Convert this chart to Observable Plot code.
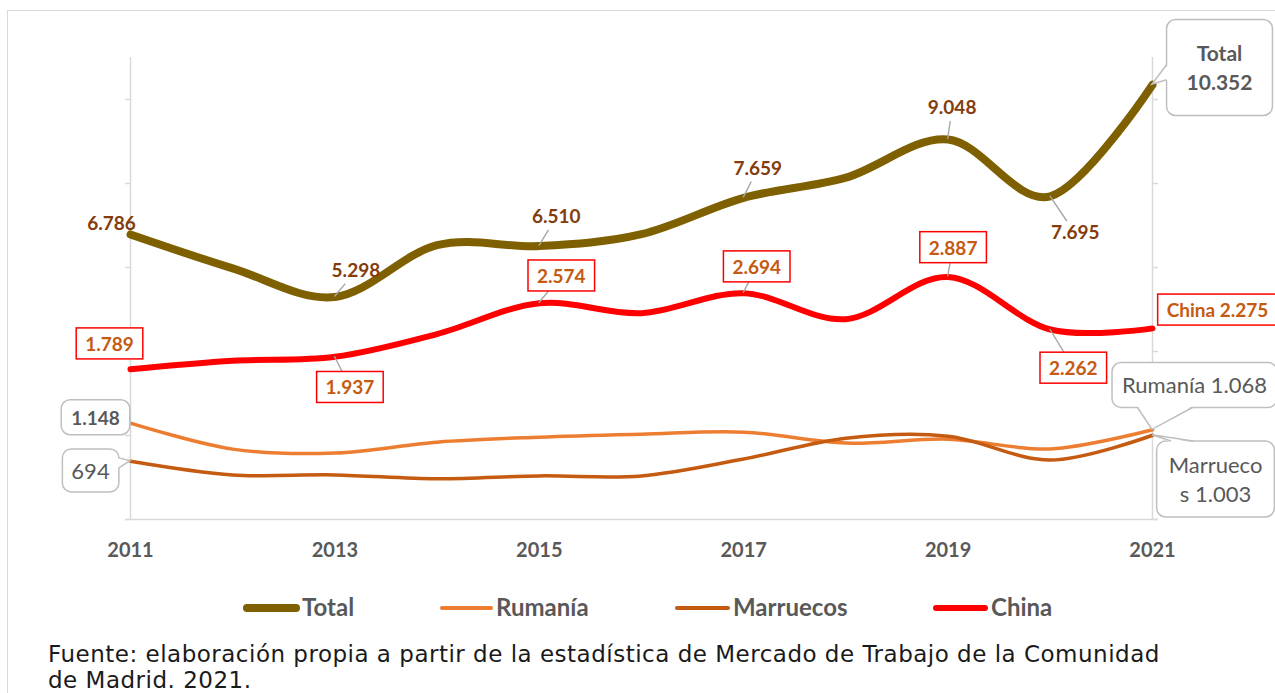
<!DOCTYPE html>
<html>
<head>
<meta charset="utf-8">
<script src="https://cdn.jsdelivr.net/npm/d3@7"></script>
<script src="https://cdn.jsdelivr.net/npm/@observablehq/plot@0.6"></script>
<style>
html, body { margin: 0; padding: 0; background: #fff; }
#wrap { position: relative; width: 1275px; height: 693px; overflow: hidden; background: #fff; }
#frame { position: absolute; left: 7px; top: 10px; width: 1320px; height: 720px; border: 1.5px solid #d9d9d9; box-sizing: border-box; }
#chart { position: absolute; left: 0; top: 0; }
#legend { position: absolute; left: 0; top: 593px; width: 1275px; height: 28px; font-family: Lato, "Open Sans", sans-serif; font-weight: bold; font-size: 24px; color: #595959; }
.sw { position: absolute; top: 50%; border-radius: 6px; }
.lt { position: absolute; top: 0; line-height: 28px; white-space: nowrap; }
#caption { position: absolute; left: 48px; top: 641px; font-family: "DejaVu Sans", Lato, sans-serif; font-size: 23px; letter-spacing: 0.5px; line-height: 26px; color: #1a1a1a; white-space: nowrap; }
</style>
</head>
<body>
<div id="wrap">
  <div id="frame"></div>
  <div id="chart"></div>
  <div id="legend"></div>
  <div id="caption"></div>
</div>
<script>
// ---------------- DATA ----------------
const years = [2011, 2012, 2013, 2014, 2015, 2016, 2017, 2018, 2019, 2020, 2021];
const total     = [6786, 5980, 5298, 6530, 6510, 6794, 7659, 8140, 9048, 7695, 10352];
const rumania   = [1148, 838, 791, 921, 980, 1015, 1040, 910, 956, 840, 1068];
const marruecos = [694, 531, 531, 484, 519, 519, 720, 968, 992, 708, 1003];
const china     = [1789, 1889, 1937, 2208, 2574, 2456, 2694, 2385, 2887, 2262, 2275];
const seriesNames = ["Total", "Rumanía", "Marruecos", "China"];
const xTickYears = [2011, 2013, 2015, 2017, 2019, 2021];
const primaryTicks = [0, 2000, 4000, 6000, 8000, 10000];
const primaryMax = 11000;     // left axis (Total)
const secondaryMax = 5500;    // right axis (Rumanía, Marruecos, China)
const captionLines = [
  "Fuente: elaboración propia a partir de la estadística de Mercado de Trabajo de la Comunidad",
  "de Madrid. 2021."
];

// ---------------- STYLE ----------------
const seriesStyle = {
  "Total":     { color: "#7F6000", width: 8,   axis: "primary" },
  "Rumanía":   { color: "#ED7D31", width: 3.5, axis: "secondary" },
  "Marruecos": { color: "#C55A11", width: 3.5, axis: "secondary" },
  "China":     { color: "#FF0000", width: 6,   axis: "secondary" }
};
const seriesValues = { "Total": total, "Rumanía": rumania, "Marruecos": marruecos, "China": china };
const ratio = primaryMax / secondaryMax;

const rows = seriesNames.flatMap(name => years.map((yr, i) => {
  const v = seriesValues[name][i];
  return { series: name, year: yr, value: v, yv: seriesStyle[name].axis === "primary" ? v : v * ratio };
}));

const fmt = d3.formatLocale({ decimal: ",", thousands: ".", grouping: [3], currency: ["", "€"] }).format(",d");

// label layout (offsets from the data point, in px) and look
const labelLayout = [
  { series: "Total", year: 2011, dx: -19, dy: -12, kind: "plain" },
  { series: "Total", year: 2013, dx: 21, dy: -28, kind: "plain", leader: true },
  { series: "Total", year: 2015, dx: 17, dy: -31, kind: "plain", leader: true },
  { series: "Total", year: 2017, dx: 14, dy: -31, kind: "plain", leader: true },
  { series: "Total", year: 2019, dx: 4, dy: -33, kind: "plain", leader: true },
  { series: "Total", year: 2020, dx: 25, dy: 35, kind: "plain", leader: true },
  { series: "Total", year: 2021, dx: 67, dy: -18, kind: "callout", prefix: "Total\n", size: 21, lh: 29, padX: 20, padY: 22, wedgeW: 15, wedgeShift: -12 },
  { series: "China", year: 2011, dx: -21, dy: -26, kind: "box" },
  { series: "China", year: 2013, dx: 15, dy: 30, kind: "box", leader: true },
  { series: "China", year: 2015, dx: 22, dy: -28, kind: "box", leader: true },
  { series: "China", year: 2017, dx: 13, dy: -27, kind: "box", leader: true },
  { series: "China", year: 2019, dx: 5, dy: -30, kind: "box", leader: true },
  { series: "China", year: 2020, dx: 23, dy: 38, kind: "box", leader: true },
  { series: "China", year: 2021, dx: 65, dy: -19, kind: "box", prefix: "China " },
  { series: "Rumanía", year: 2011, dx: -35, dy: -6, kind: "callout", padX: 10, padY: 7, wedgeW: 10, wedgeShift: 0 },
  { series: "Rumanía", year: 2021, dx: 42, dy: -44, kind: "callout", prefix: "Rumanía ", normal: true, size: 22, padX: 10, padY: 10, wedgeW: 55, wedgeShift: 13 },
  { series: "Marruecos", year: 2011, dx: -40, dy: 10, kind: "callout", normal: true, size: 22, padX: 9, padY: 9, wedgeW: 10, wedgeShift: 0 },
  { series: "Marruecos", year: 2021, dx: 63, dy: 43, kind: "callout", prefix: "Marrueco\ns ", normal: true, size: 22, lh: 29, padX: 12, padY: 11, wedgeW: 22, wedgeShift: 30 }
];

const W = 1275, H = 580;
const mL = 130, mR = 123, mT = 57, mB = 61;
const labelFont = "Lato, 'Open Sans', sans-serif";

function rowOf(L) { return rows.find(r => r.series === L.series && r.year === L.year); }
function labelText(L) { return (L.prefix || "") + fmt(rowOf(L).value); }

const marks = [
  Plot.ruleX([2011, 2021], { y1: 0, y2: primaryMax, stroke: "#d9d9d9", strokeWidth: 1.5 }),
  Plot.ruleY([0], { stroke: "#d9d9d9", strokeWidth: 1.5, insetLeft: -5, insetRight: -6 }),
  Plot.axisY({ anchor: "left", ticks: primaryTicks, tickSize: 5, tickFormat: () => "", stroke: "#d9d9d9", strokeWidth: 1.5, label: null }),
  Plot.axisY({ anchor: "right", ticks: primaryTicks, tickSize: 5, tickFormat: () => "", stroke: "#d9d9d9", strokeWidth: 1.5, label: null }),
  Plot.text(xTickYears, { x: d => d, y: 0, dy: 31, text: d => String(d), fontWeight: "bold", fontSize: 20, fill: "#595959", fontFamily: labelFont }),
  ...seriesNames.map(name => Plot.line(rows.filter(r => r.series === name), {
    x: "year", y: "yv", stroke: seriesStyle[name].color, strokeWidth: seriesStyle[name].width,
    curve: "cardinal", strokeLinecap: "round", strokeLinejoin: "round"
  })),
  ...labelLayout.map((L) => {
    let fill = "#595959";
    if (L.kind === "plain") fill = "#843C0C";
    if (L.kind === "box") fill = "#C55A11";
    return Plot.text([rowOf(L)], {
      x: "year", y: "yv", dx: L.dx, dy: L.dy,
      text: () => labelText(L),
      fill, fontWeight: L.normal ? "normal" : "bold", fontSize: L.size || 19,
      lineHeight: (L.lh || 24) / (L.size || 19),
      fontFamily: labelFont
    });
  })
];

const chart = Plot.plot({
  width: W, height: H,
  marginLeft: mL, marginRight: mR, marginTop: mT, marginBottom: mB,
  x: { domain: [2011, 2021], axis: null },
  y: { domain: [0, primaryMax], axis: null },
  style: { background: "transparent", overflow: "visible" },
  marks
});
document.getElementById("chart").append(chart);

// scales for decoration placement
const xs = d3.scaleLinear([2011, 2021], [mL, W - mR]);
const ys = d3.scaleLinear([0, primaryMax], [H - mB, mT]);
const NS = "http://www.w3.org/2000/svg";

function el(tag, attrs) {
  const e = document.createElementNS(NS, tag);
  for (const k in attrs) e.setAttribute(k, attrs[k]);
  return e;
}
function clipToBox(px, py, cx, cy, x0, y0, x1, y1) {
  const dx = cx - px, dy = cy - py;
  let tBest = 1;
  const cands = [];
  if (dx !== 0) cands.push((x0 - px) / dx, (x1 - px) / dx);
  if (dy !== 0) cands.push((y0 - py) / dy, (y1 - py) / dy);
  for (const t of cands) {
    if (t < 0 || t > 1) continue;
    const qx = px + t * dx, qy = py + t * dy;
    if (qx >= x0 - 0.01 && qx <= x1 + 0.01 && qy >= y0 - 0.01 && qy <= y1 + 0.01) tBest = Math.min(tBest, t);
  }
  return [px + tBest * dx, py + tBest * dy];
}

function decorate() {
  const svgRect = chart.getBoundingClientRect();
  const allTexts = Array.from(chart.querySelectorAll("text"));
  const used = new Set();
  labelLayout.forEach((L) => {
    const want = labelText(L).replace(/\n/g, "");
    const t = allTexts.find(e => !used.has(e) && e.textContent.replace(/\s*\n\s*/g, "") === want);
    if (!t) return;
    used.add(t);
    const g = t.parentNode;
    const r = t.getBoundingClientRect();
    const bx0 = r.left - svgRect.left, by0 = r.top - svgRect.top;
    const bx1 = bx0 + r.width, by1 = by0 + r.height;
    const row = rowOf(L);
    const px = xs(row.year), py = ys(row.yv);
    const deco = el("g", {});
    g.parentNode.insertBefore(deco, g);

    let x0, y0, x1, y1;
    if (L.kind === "plain") {
      x0 = bx0 - 2; x1 = bx1 + 2; y0 = by0 + 1; y1 = by1 + 3;
    } else {
      const padX = L.padX ?? 9, padY = L.padY ?? 5;
      x0 = bx0 - padX; x1 = bx1 + padX; y0 = by0 - padY + 1; y1 = by1 + padY - 1;
    }
    const cx = (x0 + x1) / 2, cy = (y0 + y1) / 2;

    if (L.leader) {
      const [qx, qy] = clipToBox(px, py, cx, cy, x0, y0, x1, y1);
      deco.append(el("line", { x1: px, y1: py, x2: qx, y2: qy, stroke: "#a6a6a6", "stroke-width": 1.4 }));
    }
    if (L.kind === "box") {
      deco.append(el("rect", { x: x0, y: y0, width: x1 - x0, height: y1 - y0, fill: "#fff", stroke: "#FF0000", "stroke-width": 1.5 }));
    }
    if (L.kind === "callout") {
      const rr = 9;
      deco.append(el("rect", { x: x0, y: y0, width: x1 - x0, height: y1 - y0, rx: rr, ry: rr, fill: "#fff", stroke: "#bfbfbf", "stroke-width": 1.5 }));
      const outX = Math.max(x0 - px, px - x1, 0), outY = Math.max(y0 - py, py - y1, 0);
      const w = L.wedgeW ?? 12, s = L.wedgeShift ?? 0;
      let a, b, nx = 0, ny = 0;
      if (outX >= outY) {
        const ex = px < x0 ? x0 : x1;
        const c = Math.max(y0 + rr + w / 2, Math.min(y1 - rr - w / 2, py + s));
        a = [ex, c - w / 2]; b = [ex, c + w / 2];
        nx = px < x0 ? 1.5 : -1.5;
      } else {
        const ey = py < y0 ? y0 : y1;
        const c = Math.max(x0 + rr + w / 2, Math.min(x1 - rr - w / 2, px + s));
        a = [c - w / 2, ey]; b = [c + w / 2, ey];
        ny = py < y0 ? 1.5 : -1.5;
      }
      deco.append(el("path", { d: `M${a[0] + nx},${a[1] + ny}L${px},${py}L${b[0] + nx},${b[1] + ny}Z`, fill: "#fff", stroke: "none" }));
      deco.append(el("path", { d: `M${a[0]},${a[1]}L${px},${py}L${b[0]},${b[1]}`, fill: "none", stroke: "#bfbfbf", "stroke-width": 1.5 }));
    }
  });
}
decorate();

// ---------------- LEGEND ----------------
const legendPos = [
  { name: "Total", sx: 243, sw: 57, tx: 302 },
  { name: "Rumanía", sx: 440, sw: 53, tx: 496 },
  { name: "Marruecos", sx: 675, sw: 55, tx: 733 },
  { name: "China", sx: 933, sw: 55, tx: 991 }
];
const legend = document.getElementById("legend");
legendPos.forEach(p => {
  const st = seriesStyle[p.name];
  const sw = document.createElement("div");
  sw.className = "sw";
  sw.style.left = p.sx + "px";
  sw.style.width = p.sw + "px";
  sw.style.height = st.width + "px";
  sw.style.marginTop = (-st.width / 2 + 1) + "px";
  sw.style.background = st.color;
  legend.append(sw);
  const tx = document.createElement("div");
  tx.className = "lt";
  tx.style.left = p.tx + "px";
  tx.textContent = p.name;
  legend.append(tx);
});

// ---------------- CAPTION ----------------
const cap = document.getElementById("caption");
captionLines.forEach((line, i) => {
  if (i) cap.append(document.createElement("br"));
  cap.append(document.createTextNode(line));
});
</script>
</body>
</html>
